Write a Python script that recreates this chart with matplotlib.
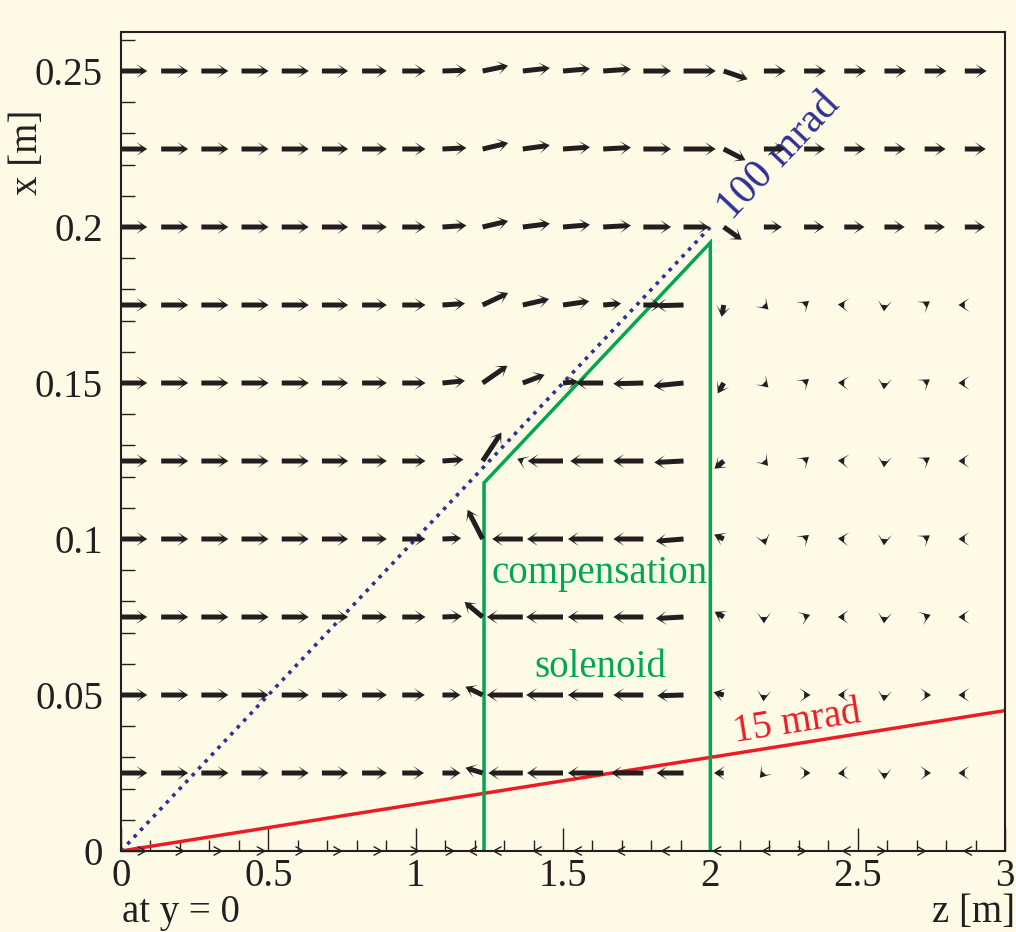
import numpy as np
import matplotlib
matplotlib.use("Agg")
import matplotlib.pyplot as plt
from matplotlib.ticker import MultipleLocator, FormatStrFormatter

# 网格: z 方向 22 个点, x 方向 10 行 (x=0 那一行单独画)
z_grid = np.arange(22) * 3.0 / 22
x_rows = [0.25, 0.225, 0.2, 0.175, 0.15, 0.125, 0.1, 0.075, 0.05, 0.025]

# 磁场分量 [T], 每行 22 个点 (bz 向右, bx 向上)
bz = np.array([
    [3.5, 3.6, 3.6, 3.6, 3.6, 3.5, 3.3, 3.1, 3.2, 3.4, 3.6, 3.6, 3.7, 3.7, 4.3, 3.2, 2.9, 2.9, 2.9, 2.9, 2.9, 2.9],
    [3.5, 3.6, 3.6, 3.6, 3.6, 3.5, 3.3, 3.1, 3.2, 3.4, 3.6, 3.6, 3.7, 3.7, 4.3, 2.9, 2.8, 2.8, 2.8, 2.8, 2.8, 2.8],
    [3.5, 3.6, 3.6, 3.6, 3.6, 3.5, 3.3, 3.1, 3.2, 3.4, 3.6, 3.6, 3.7, 3.7, 3.4, 2.4, 2.4, 2.7, 2.7, 2.7, 2.7, 2.7],
    [3.5, 3.6, 3.6, 3.6, 3.6, 3.5, 3.3, 3.1, 3.0, 3.4, 3.5, 3.5, 2.4, 2.4, -3.7, -0.28, 0.6, 0.65, -0.85, -0.07, 0.7, -0.85],
    [3.5, 3.6, 3.6, 3.6, 3.6, 3.5, 3.3, 3.1, 3.0, 3.3, 2.9, 2.0, -3.6, -4.0, -4.0, -0.8, 0.6, 0.65, -0.85, -0.07, 0.7, -0.85],
    [3.5, 3.6, 3.6, 3.6, 3.6, 3.5, 3.3, 3.1, 2.8, 2.5, -0.75, -4.7, -4.4, -4.0, -3.9, -1.23, 0.55, 0.65, -0.85, -0.07, 0.7, -0.85],
    [3.5, 3.6, 3.6, 3.6, 3.6, 3.5, 3.3, 3.1, 2.5, -2.0, -4.1, -4.8, -4.7, -4.0, -3.7, -1.27, 0.22, 0.65, -0.85, -0.07, 0.7, -0.85],
    [3.5, 3.6, 3.6, 3.6, 3.6, 3.5, 3.3, 3.1, 2.6, -2.4, -4.8, -4.9, -4.7, -4.0, -3.7, -1.21, 0.0, 0.8, -0.85, -0.07, 0.8, -0.85],
    [3.5, 3.6, 3.6, 3.6, 3.6, 3.5, 3.3, 3.0, 2.4, -2.3, -4.8, -4.9, -4.7, -4.0, -3.5, -1.35, -0.07, 0.85, -0.85, -0.07, 0.85, -0.85],
    [3.5, 3.6, 3.6, 3.6, 3.6, 3.5, 3.3, 2.9, 2.4, -2.3, -4.6, -4.8, -4.7, -4.3, -3.6, -1.3, -0.55, 0.85, -0.85, 0.0, 0.85, -0.85],
])
bx = np.array([
    [0, 0, 0, 0, 0, 0, 0, 0, 0.1, 0.7, 0.4, 0.3, 0.25, 0, 0, -1.1, 0, 0, 0, 0, 0, 0],
    [0, 0, 0, 0, 0, 0, 0, 0, 0.15, 0.8, 0.5, 0.25, 0.2, 0, 0, -1.5, 0, 0, 0, 0, 0, 0],
    [0, 0, 0, 0, 0, 0, 0, 0, 0.2, 0.8, 0.45, 0.3, 0.2, 0, 0, -1.7, 0, 0, 0, 0, 0, 0],
    [0, 0, 0, 0, 0, 0, 0, 0, 0.2, 1.6, 0.8, 0.5, 0.2, 0, -0.1, -1.58, -0.6, 0.55, 0.07, -0.85, 0.49, 0],
    [0, 0, 0, 0, 0, 0, 0, 0, 0.3, 2.3, 1.1, 0.2, 0, -0.1, -0.4, -1.39, -0.6, 0.55, 0.07, -0.85, 0.49, 0],
    [0, 0, 0, 0, 0, 0, 0, 0, 0.2, 3.8, 0.3, 0, 0, 0, -0.2, -1.03, -0.65, 0.55, 0.07, -0.85, 0.49, 0],
    [0, 0, 0, 0, 0, 0, 0, 0, 0.1, 3.9, 0, 0, 0, 0, -0.3, 0.59, -0.82, 0.55, 0.07, -0.85, 0.49, 0],
    [0, 0, 0, 0, 0, 0, 0, 0, 0.1, 2.0, 0, 0, 0, 0, -0.2, 0.7, -0.85, 0.29, 0, -0.85, 0.29, 0],
    [0, 0, 0, 0, 0, 0, 0, 0, 0, 1.1, 0, 0, 0, 0, -0.1, 0.36, -0.85, 0, 0, -0.85, 0, 0],
    [0, 0, 0, 0, 0, 0, 0, 0, 0, 0.7, 0, 0, 0, 0, 0, 0, -0.65, 0, -0.07, -0.85, 0, 0],
])
# x=0 轴上的 bz
bz_axis = [3.5, 3.2, 2.9, 3.3, 3.1, 2.8, 2.8, 2.4, 1.7, -2.0, -4.1, -4.1, -4.1, -3.7, -3.1, -1.6,
           -0.4, 0.4, -0.4, 0.3, 0.3, -0.3]

# 补偿线圈轮廓 (z, x)
sol_z = [1.232, 1.232, 2.0, 2.0]
sol_x = [0.0, 0.118, 0.195, 0.0]
# 束流角度 [rad]
angle_wide = 0.100
angle_narrow = 0.015

px_per_T = 7.5
ink = '#231f20'
bg = '#fdfbe6'
font = 'Liberation Serif'
fs = 28

plt.rcParams['font.family'] = [font, 'DejaVu Serif']

fig = plt.figure(figsize=(10.16, 9.32), dpi=100, facecolor=bg)
ax = fig.add_axes([121 / 1016, 81 / 932, 884 / 1016, 819 / 932], facecolor=bg)
ax.set_xlim(0, 3)
ax.set_ylim(0, 0.2625)

# 束流线
ax.plot([0, 2.0], [0, 2.0 * angle_wide], color='#2e3192', lw=2.6, ls=(0, (1, 1.6)),
        dash_capstyle='butt', zorder=2)
ax.plot([0, 3.0], [0, 3.0 * angle_narrow], color='#ed1c24', lw=2.5, zorder=2)
ax.plot(sol_z, sol_x, color='#00a651', lw=2.5, zorder=2, solid_joinstyle='miter')

# 矢量场 (箭头头部大小固定, 短矢量只剩箭头)
Z, X = np.meshgrid(z_grid, x_rows)
ax.quiver(Z, X, bz, bx, angles='uv', scale_units='dots', scale=1 / px_per_T,
          units='dots', width=5.0, headwidth=2.8, headlength=2.2, headaxislength=1.2,
          minshaft=0.01, minlength=0, color=ink, zorder=4)

# 轴上的箭头用细线
for z, b in zip(z_grid, bz_axis):
    tail = ax.transData.transform((z, 0))
    tip = ax.transData.inverted().transform(tail + np.array([b * px_per_T, 0]))
    ax.annotate('', xy=tip, xytext=(z, 0), xycoords='data', textcoords='data',
                annotation_clip=False,
                arrowprops=dict(arrowstyle='->,head_length=0.55,head_width=0.3', lw=1.0,
                                color=ink, shrinkA=0, shrinkB=0, mutation_scale=10),
                zorder=3)

# 文字
ax.text(1.625, 0.089, 'compensation', color='#00a651', fontsize=fs, ha='center', va='center')
ax.text(1.625, 0.0587, 'solenoid', color='#00a651', fontsize=fs, ha='center', va='center')
ax.text(2.075, 0.202, '100 mrad', color='#2e3192', fontsize=30, rotation=46.6,
        rotation_mode='anchor', ha='left', va='baseline')
ax.text(2.085, 0.035, '15 mrad', color='#ed1c24', fontsize=fs, rotation=9.0,
        rotation_mode='anchor', ha='left', va='baseline')

# 坐标轴
for s in ax.spines.values():
    s.set_color(ink)
    s.set_linewidth(1.5)
    s.set_zorder(5)
ax.xaxis.set_major_locator(MultipleLocator(0.5))
ax.xaxis.set_minor_locator(MultipleLocator(0.1))
ax.yaxis.set_major_locator(MultipleLocator(0.05))
ax.yaxis.set_minor_locator(MultipleLocator(0.01))
ax.xaxis.set_major_formatter(FormatStrFormatter('%g'))
ax.yaxis.set_major_formatter(FormatStrFormatter('%g'))
ax.tick_params(which='both', direction='in', colors=ink, labelsize=fs, top=False, right=False)
ax.tick_params(axis='x', which='major', length=16.5, width=1.0, pad=5)
ax.tick_params(axis='x', which='minor', length=8, width=1.0)
ax.tick_params(axis='y', which='major', length=16.5, width=1.0, pad=13)
ax.tick_params(axis='y', which='minor', length=10, width=1.0)

fig.text(1015 / 1016, 10 / 932, 'z [m]', fontsize=fs, color=ink, ha='right', va='baseline')
fig.text(27 / 1016, 822 / 932, 'x [m]', fontsize=fs, color=ink, rotation=90, ha='center', va='top')
fig.text(122 / 1016, 10 / 932, 'at y = 0', fontsize=fs, color=ink, ha='left', va='baseline')

fig.savefig('out.png', dpi=100, facecolor=bg)
